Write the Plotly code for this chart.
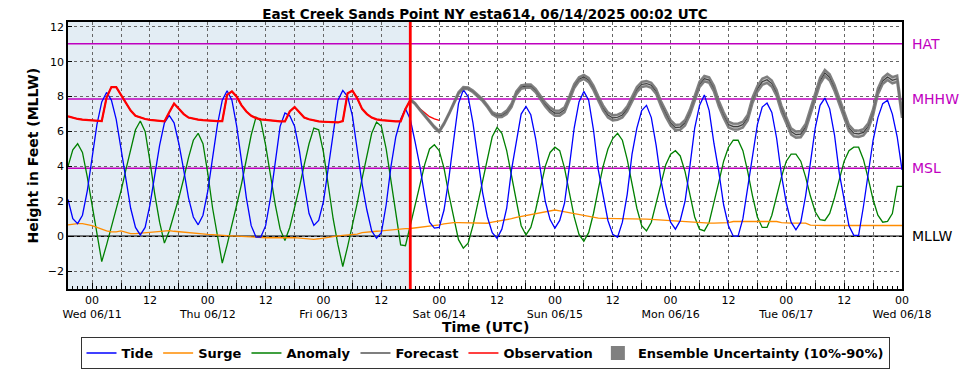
import plotly.graph_objects as go
import pandas as pd

# ---------------- data (hourly, starting 2025-06-10 19:00 UTC) ----------------
start_time = "2025-06-10 19:00"
n_hours = 174
nowcast_index = 71          # 2025-06-13 18:00 UTC (start of forecast)
obs_count = 78              # observations until 2025-06-14 00:00 UTC

tide = [
    2.1, 1.0, 0.72, 1.2, 2.6, 4.5, 6.4, 7.7, 8.24, 7.8, 6.7, 5.0,
    3.3, 1.6, 0.5, 0.07, 0.5, 1.8, 3.5, 5.2, 6.5, 6.92, 6.5, 5.3,
    3.8, 2.2, 1.1, 0.65, 1.2, 2.6, 4.5, 6.4, 7.8, 8.34, 7.8, 6.3,
    4.3, 2.2, 0.6, -0.05, -0.05, 0.6, 2.2, 4.4, 6.3, 7.06, 6.9, 6.3,
    4.9, 3.0, 1.3, 0.62, 0.9, 2.0, 4.0, 6.1, 7.8, 8.36, 8.0, 6.9,
    4.8, 3.0, 1.5, 0.3, -0.12, 0.2, 1.8, 4.0, 5.7, 6.7, 7.3, 6.7,
    5.4, 4.0, 2.3, 0.8, 0.46, 0.5, 1.5, 3.3, 5.5, 7.6, 8.4, 8.0,
    6.5, 4.6, 2.5, 1.1, 0.2, -0.12, 0.4, 1.6, 3.8, 5.4, 7.0, 7.44,
    6.96, 5.6, 3.9, 2.0, 0.95, 0.46, 0.9, 1.9, 4.0, 6.2, 7.7, 8.3,
    7.8, 6.1, 3.8, 2.3, 0.9, 0.1, -0.06, 0.8, 2.4, 4.7, 6.2, 7.2,
    7.5, 6.8, 5.2, 3.2, 1.8, 0.8, 0.4, 0.9, 2.0, 4.0, 6.2, 7.5,
    8.1, 7.2, 5.3, 3.7, 1.8, 0.6, 0.0, 0.0, 1.0, 2.8, 4.7, 6.4,
    7.4, 7.63, 7.1, 5.6, 3.5, 1.9, 0.8, 0.36, 0.8, 2.3, 4.2, 6.2,
    7.5, 7.92, 7.3, 5.8, 3.6, 2.0, 0.6, 0.05, 0.05, 1.7, 3.6, 5.5,
    6.8, 7.6, 7.79, 7.0, 5.7, 3.8,
]

surge = [
    0.65, 0.7, 0.72, 0.72, 0.68, 0.6, 0.5, 0.4, 0.3, 0.25, 0.25, 0.3,
    0.22, 0.15, 0.15, 0.18, 0.2, 0.22, 0.25, 0.3, 0.33, 0.32, 0.28, 0.25,
    0.24, 0.23, 0.2, 0.14, 0.12, 0.1, 0.09, 0.06, 0.04, 0.03, 0.02, 0.0,
    -0.02, -0.05, -0.07, -0.08, -0.08, -0.09, -0.09, -0.1, -0.1, -0.1, -0.09, -0.08,
    -0.1, -0.14, -0.17, -0.18, -0.15, -0.1, -0.07, -0.02, 0.02, 0.05, 0.08, 0.1,
    0.12, 0.2, 0.24, 0.26, 0.28, 0.3, 0.33, 0.37, 0.4, 0.41, 0.43, 0.44,
    0.47, 0.5, 0.52, 0.55, 0.6, 0.65, 0.7, 0.75, 0.78, 0.78, 0.77, 0.76,
    0.75, 0.75, 0.72, 0.74, 0.8, 0.84, 0.88, 0.94, 1.0, 1.08, 1.13, 1.2,
    1.25, 1.32, 1.35, 1.4, 1.47, 1.5, 1.45, 1.4, 1.35, 1.3, 1.22, 1.17,
    1.12, 1.06, 1.03, 1.02, 1.02, 1.02, 1.0, 1.0, 1.0, 1.0, 1.0, 0.99,
    0.98, 0.96, 0.94, 0.93, 0.92, 0.9, 0.88, 0.86, 0.84, 0.82, 0.77, 0.75,
    0.75, 0.75, 0.75, 0.75, 0.75, 0.78, 0.84, 0.84, 0.84, 0.84, 0.84, 0.84,
    0.84, 0.84, 0.84, 0.84, 0.78, 0.75, 0.75, 0.75, 0.75, 0.75, 0.63, 0.61,
    0.61, 0.61, 0.61, 0.61, 0.61, 0.61, 0.61, 0.61, 0.61, 0.61, 0.61, 0.61,
    0.61, 0.61, 0.61, 0.61, 0.61, 0.61,
]

anomaly = [
    4.0, 4.95, 5.3, 4.8, 3.4, 1.7, 0.0, -1.46, -0.5, 0.5, 1.5, 2.6,
    3.8, 5.0, 6.1, 6.6, 6.0, 4.3, 2.4, 0.8, -0.4, 0.3, 1.2, 2.2,
    3.3, 4.5, 5.5, 5.9, 5.3, 3.6, 1.6, -0.1, -1.55, -0.5, 0.6, 1.8,
    3.0, 4.4, 5.8, 6.83, 6.6, 5.2, 3.5, 1.8, 0.4, -0.25, 0.5, 1.6,
    2.8, 4.1, 5.3, 6.2, 6.1, 4.8, 3.0, 1.0, -0.5, -1.74, -0.6, 0.6,
    1.9, 3.3, 4.6, 5.9, 6.54, 6.3, 5.0, 3.2, 1.4, -0.5, -0.55, 0.6,
    1.8, 3.0, 4.1, 5.0, 5.24, 4.9, 3.9, 2.4, 1.0, -0.2, -0.69, -0.4,
    0.6, 1.9, 3.3, 4.6, 5.7, 6.24, 5.9, 4.9, 3.4, 1.9, 0.6, 0.07,
    0.5, 1.5, 2.8, 4.0, 4.8, 5.1, 4.9, 3.9, 2.5, 1.1, 0.1, -0.3,
    0.2, 1.3, 2.7, 4.0, 5.0, 5.6, 5.9, 5.5, 4.4, 3.0, 1.6, 0.6,
    0.3, 0.8, 1.9, 3.1, 4.1, 4.7, 4.9, 4.6, 3.7, 2.4, 1.1, 0.4,
    0.3, 0.8, 1.9, 3.1, 4.3, 5.1, 5.5, 5.5, 4.9, 3.7, 2.3, 1.1,
    0.5, 0.5, 1.2, 2.3, 3.4, 4.3, 4.7, 4.7, 4.3, 3.4, 2.3, 1.4,
    0.95, 0.9, 1.3, 2.2, 3.3, 4.3, 4.9, 5.1, 5.1, 4.4, 3.3, 2.1,
    1.2, 0.8, 0.85, 1.3, 2.85, 2.85,
]

observation = [
    6.87, 6.78, 6.72, 6.68, 6.65, 6.62, 6.6, 6.6, 7.95, 8.55, 8.55, 8.1,
    7.6, 7.2, 6.9, 6.8, 6.72, 6.67, 6.63, 6.6, 6.58, 7.1, 7.6, 7.3,
    7.0, 6.8, 6.72, 6.68, 6.65, 6.62, 6.6, 6.6, 6.6, 8.1, 8.3, 8.0,
    7.5, 7.15, 6.9, 6.77, 6.7, 6.66, 6.62, 6.6, 6.58, 6.58, 7.15, 7.4,
    7.1, 6.8, 6.7, 6.62, 6.58, 6.56, 6.54, 6.52, 6.52, 6.6, 8.2, 8.34,
    7.9, 7.3, 7.0, 6.8, 6.7, 6.65, 6.62, 6.6, 6.58, 6.58, 7.3, 7.8,
    7.6, 7.3, 7.05, 6.85, 6.72, 6.64,
]

forecast = [
    7.82, 7.6, 7.25, 6.9, 6.6, 6.25, 6.0, 6.45, 7.0, 7.6, 8.2, 8.5,
    8.48, 8.3, 8.05, 7.8, 7.45, 7.05, 6.9, 6.92, 7.1, 7.5, 8.2, 8.55,
    8.6, 8.6, 8.35, 7.95, 7.55, 7.25, 7.05, 7.05, 7.25, 7.9, 8.6, 9.0,
    9.13, 8.95, 8.5, 7.9, 7.35, 6.95, 6.78, 6.82, 6.95, 7.3, 7.9, 8.4,
    8.7, 8.75, 8.65, 8.3, 7.6, 7.0, 6.5, 6.22, 6.25, 6.5, 7.1, 7.9,
    8.7, 9.03, 8.95, 8.45, 7.6, 6.95, 6.4, 6.28, 6.28, 6.4, 6.8, 7.8,
    8.45, 8.85, 8.97, 8.75, 8.2, 7.3, 6.6, 6.0, 5.82, 5.85, 6.25, 7.1,
    8.0, 8.9, 9.36, 9.1, 8.5, 7.7, 6.9, 6.2, 5.9, 5.87, 5.95, 6.3,
    7.1, 8.3, 8.9, 9.13, 8.94, 9.03, 6.96,
]

# half width of the 10%-90% ensemble band around the forecast
ens_halfwidth = [
    0.03, 0.03, 0.03, 0.03, 0.04, 0.04, 0.04, 0.04, 0.04, 0.05, 0.05, 0.05,
    0.05, 0.05, 0.05, 0.06, 0.06, 0.07, 0.08, 0.09, 0.1, 0.1, 0.1, 0.1,
    0.1, 0.1, 0.1, 0.1, 0.12, 0.14, 0.15, 0.15, 0.14, 0.13, 0.12, 0.12,
    0.12, 0.12, 0.13, 0.14, 0.15, 0.15, 0.15, 0.15, 0.15, 0.15, 0.15, 0.15,
    0.15, 0.15, 0.15, 0.15, 0.15, 0.16, 0.16, 0.16, 0.16, 0.16, 0.16, 0.16,
    0.16, 0.16, 0.16, 0.17, 0.17, 0.17, 0.17, 0.17, 0.17, 0.17, 0.17, 0.17,
    0.17, 0.18, 0.18, 0.18, 0.18, 0.18, 0.18, 0.18, 0.18, 0.18, 0.18, 0.18,
    0.18, 0.18, 0.18, 0.18, 0.18, 0.18, 0.18, 0.18, 0.18, 0.18, 0.18, 0.18,
    0.18, 0.18, 0.18, 0.18, 0.18, 0.18, 0.18,
]

datum_names = ["HAT", "MHHW", "MSL", "MLLW"]
datum_values = [11.03, 7.86, 3.90, 0.0]
datum_colors = ["#bf00bf", "#bf00bf", "#bf00bf", "black"]

tick_times = pd.date_range("2025-06-11 00:00", "2025-06-18 00:00", freq="6h")
day_labels = ["Wed 06/11", "Thu 06/12", "Fri 06/13", "Sat 06/14",
              "Sun 06/15", "Mon 06/16", "Tue 06/17", "Wed 06/18"]
hour_labels = ["00", "", "12", ""]

ytick_values = [-2, 0, 2, 4, 6, 8, 10, 12]

# ---------------- build ----------------
times = pd.date_range(start_time, periods=n_hours, freq="h")
obs_times = times[:obs_count]
fc_times = times[nowcast_index:]
nowcast_time = times[nowcast_index]

ens_lo = [f - h for f, h in zip(forecast, ens_halfwidth)]
ens_hi = [f + h for f, h in zip(forecast, ens_halfwidth)]

ticktext = []
for i, t in enumerate(tick_times):
    h = hour_labels[i % 4]
    if h == "00":
        ticktext.append("00<br>" + day_labels[i // 4])
    else:
        ticktext.append(h)

# The page body adds an 8 px offset, so the figure is 8 px smaller than the window.
FIG_W, FIG_H = 961, 362
FONT = "DejaVu Sans"
fig = go.Figure()

fig.add_trace(go.Scatter(x=times, y=anomaly, mode="lines", name="Anomaly",
                         line=dict(color="#008000", width=1.3), legendrank=3))
fig.add_trace(go.Scatter(x=times, y=surge, mode="lines", name="Surge",
                         line=dict(color="#ff8c00", width=1.3), legendrank=2))
fig.add_trace(go.Scatter(x=times, y=tide, mode="lines", name="Tide",
                         line=dict(color="#0000ff", width=1.3), legendrank=1))
fig.add_trace(go.Scatter(x=obs_times, y=observation, mode="lines", name="Observation",
                         line=dict(color="#ff0000", width=1.3), legendrank=5))
fig.add_trace(go.Scatter(x=obs_times[:nowcast_index + 1], y=observation[:nowcast_index + 1],
                         mode="lines", showlegend=False,
                         line=dict(color="#ff0000", width=2.2)))
fig.add_trace(go.Scatter(x=fc_times, y=forecast, mode="lines", name="Forecast",
                         line=dict(color="black", width=1.2), legendrank=4))
fig.add_trace(go.Scatter(x=fc_times, y=ens_lo, mode="lines", showlegend=False,
                         line=dict(color="rgba(115,115,115,0.9)", width=2.4)))
fig.add_trace(go.Scatter(x=fc_times, y=ens_hi, mode="lines", showlegend=False,
                         fill="tonexty", fillcolor="rgba(128,128,128,0.5)",
                         line=dict(color="rgba(115,115,115,0.9)", width=2.4)))
fig.add_trace(go.Scatter(x=[None], y=[None], mode="markers",
                         marker=dict(symbol="square", size=14, color="#808080"),
                         name="Ensemble Uncertainty (10%-90%)", legendrank=6))

shapes = []
# hindcast shading
shapes.append(dict(type="rect", xref="x", yref="paper", x0=times[0], x1=nowcast_time,
                   y0=0, y1=1, fillcolor="#e3edf4", line=dict(width=0), layer="below"))
for name, val, col in zip(datum_names, datum_values, datum_colors):
    shapes.append(dict(type="line", xref="paper", yref="y", x0=0, x1=1, y0=val, y1=val,
                       line=dict(color=col, width=1.5), layer="below"))
shapes.append(dict(type="line", xref="x", yref="paper", x0=nowcast_time, x1=nowcast_time,
                   y0=0, y1=1, line=dict(color="#ff0000", width=2.8), layer="above"))

annotations = []
for name, val, col in zip(datum_names, datum_values, datum_colors):
    annotations.append(dict(xref="paper", yref="y", x=1.0, y=val, xshift=8,
                            xanchor="left", yanchor="middle", text=name, showarrow=False,
                            font=dict(family=FONT, size=14, color=col)))
annotations.append(dict(xref="paper", yref="paper", x=0.5, y=-0.1423, text="Time (UTC)",
                        showarrow=False, xanchor="center", yanchor="middle",
                        font=dict(family=FONT, size=14, color="black", weight="bold")))
annotations.append(dict(xref="paper", yref="paper", x=-0.042, y=0.5, text="Height in Feet (MLLW)",
                        showarrow=False, textangle=-90, xanchor="center", yanchor="middle",
                        font=dict(family=FONT, size=14, color="black", weight="bold")))

fig.update_layout(
    width=FIG_W, height=FIG_H,
    margin=dict(l=60, r=67, t=14, b=81, autoexpand=False),
    paper_bgcolor="white", plot_bgcolor="white",
    font=dict(family=FONT, size=11, color="black"),
    title=dict(text="East Creek Sands Point NY esta614, 06/14/2025 00:02 UTC",
               x=0.5, xref="paper", xanchor="center",
               y=1 - 2.0 / FIG_H, yref="container", yanchor="top",
               font=dict(family=FONT, size=13.5, color="black", weight="bold")),
    shapes=shapes,
    annotations=annotations,
    showlegend=True,
    legend=dict(orientation="h", x=0.5, xanchor="center", y=-0.18, yanchor="top",
                traceorder="normal",
                bordercolor="#333333", borderwidth=1, bgcolor="white",
                font=dict(family=FONT, size=13, color="black", weight="bold")),
)

fig.update_xaxes(
    type="date", range=[times[0], times[-1]],
    tickmode="array", tickvals=tick_times, ticktext=ticktext,
    ticks="inside", ticklen=6, tickcolor="black", tickwidth=1,
    tickfont=dict(family=FONT, size=11, color="black"),
    showgrid=True, gridcolor="#666666", griddash="dot", gridwidth=1,
    minor=dict(dtick=3600000, ticks="inside", ticklen=3, tickcolor="black", showgrid=False),
    showline=True, linecolor="black", linewidth=1.5, mirror=True,
    zeroline=False, automargin=False,
)
fig.update_yaxes(
    range=[-3.03, 12.28],
    tickmode="array", tickvals=ytick_values,
    ticks="inside", ticklen=4, tickcolor="black",
    tickfont=dict(family=FONT, size=11, color="black"),
    showgrid=True, gridcolor="#666666", griddash="dot", gridwidth=1,
    showline=True, linecolor="black", linewidth=1.5, mirror=True,
    zeroline=False, automargin=False,
)

fig.write_html("out.html")
